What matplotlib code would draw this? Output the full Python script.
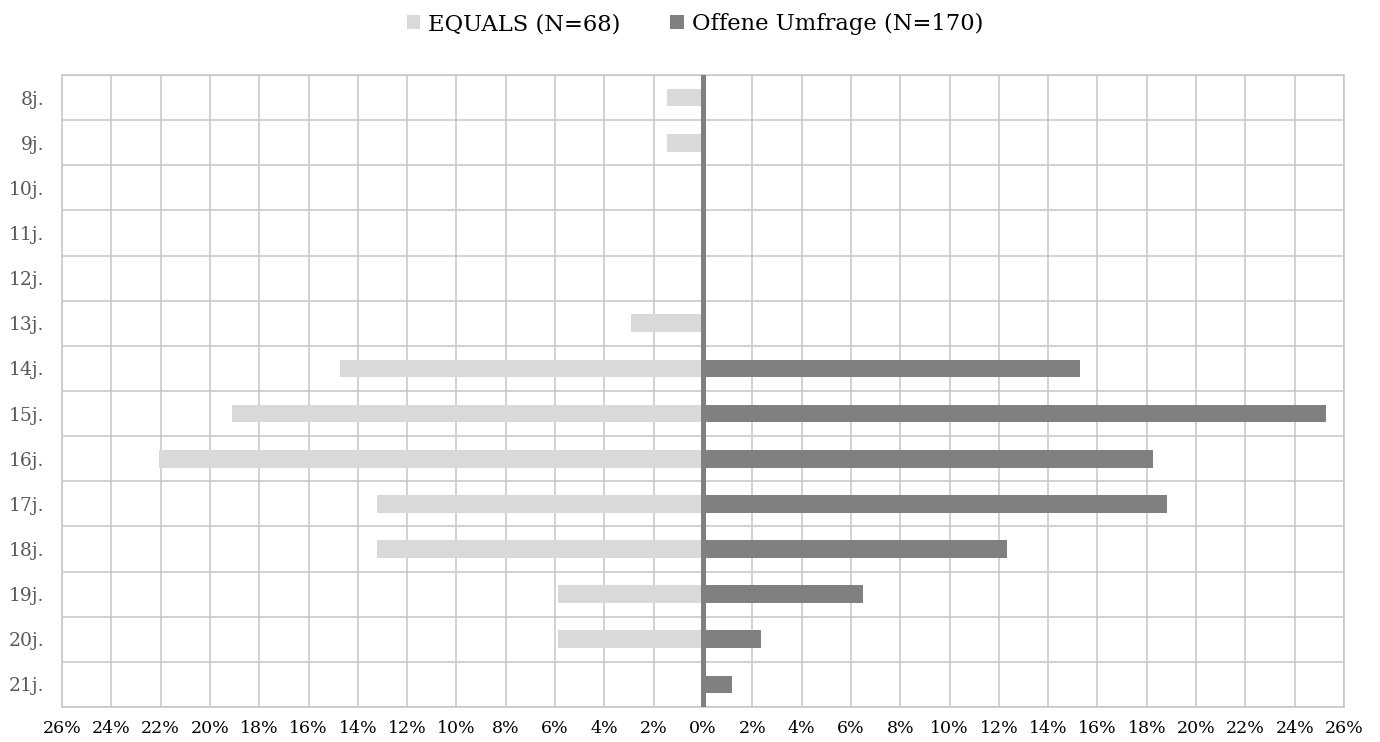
import matplotlib
matplotlib.use("Agg")
import matplotlib.pyplot as plt
import numpy as np
from matplotlib.ticker import FixedLocator, FuncFormatter

categories = ["8j.", "9j.", "10j.", "11j.", "12j.", "13j.", "14j.", "15j.",
              "16j.", "17j.", "18j.", "19j.", "20j.", "21j."]
equals_pct = [1.47, 1.47, 0, 0, 0, 2.94, 14.71, 19.12, 22.06, 13.24, 13.24, 5.88, 5.88, 0]
offene_pct = [0, 0, 0, 0, 0, 0, 15.29, 25.29, 18.24, 18.82, 12.35, 6.47, 2.35, 1.18]
series_labels = ["EQUALS (N=68)", "Offene Umfrage (N=170)"]
x_ticks = list(range(-26, 27, 2))

plt.rcParams['font.family'] = ['DejaVu Serif']

fig = plt.figure(figsize=(13.8, 7.42), dpi=100)
ax = fig.add_axes([62/1380, 1-707/742, (1344-62)/1380, (707-75)/742])

y = np.arange(len(categories))
h = 0.39
ax.barh(y, -np.array(equals_pct), height=h, color="#d9d9d9", label=series_labels[0], zorder=3)
ax.barh(y, offene_pct, height=h, color="#808080", label=series_labels[1], zorder=3)

ax.set_xlim(-26, 26)
ax.set_ylim(len(categories) - 0.5, -0.5)
ax.xaxis.set_major_locator(FixedLocator(x_ticks))
ax.xaxis.set_major_formatter(FuncFormatter(lambda v, p: f"{abs(int(round(v)))}%"))
ax.set_yticks(y)
ax.set_yticklabels(categories)
ax.set_yticks(np.arange(-0.5, len(categories), 1), minor=True)

ax.grid(False)
ax.grid(True, which="major", axis="x", color="#c6c6c6", linewidth=1.1, zorder=0)
ax.grid(True, which="minor", axis="y", color="#c6c6c6", linewidth=1.1, zorder=0)
ax.tick_params(which="both", length=0)
ax.tick_params(axis="x", labelsize=12.5, labelcolor="#000000", pad=9.5)
ax.tick_params(axis="y", labelsize=13.5, labelcolor="#595959", pad=13)
for s in ax.spines.values():
    s.set_color("#c6c6c6")
    s.set_linewidth(1.1)
ax.axvline(0, color="#808080", linewidth=3.6, zorder=4)

fig.legend(loc="center", bbox_to_anchor=(695/1380, 1-24/742), ncol=2, frameon=False,
           fontsize=16.3, handlelength=0.6, handleheight=0.6, handletextpad=0.35,
           columnspacing=2.2, borderpad=0)

fig.savefig("out.png", dpi=100)
